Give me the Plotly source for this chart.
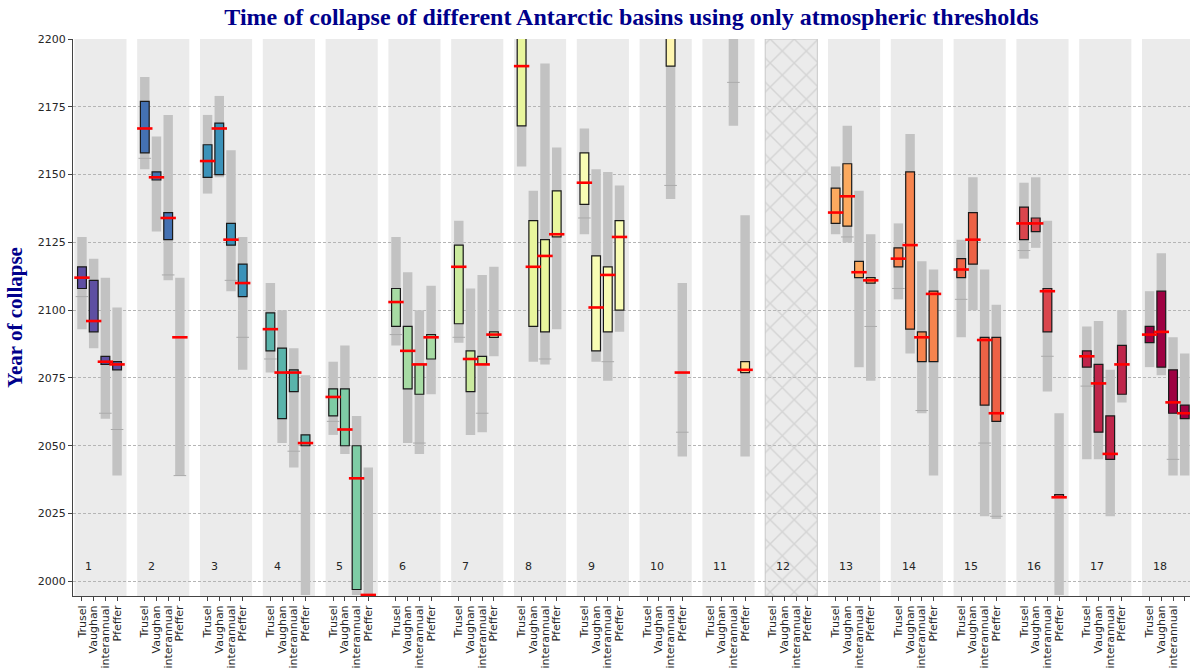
import plotly.graph_objects as go
from plotly.colors import sample_colorscale

# Threshold methods shown for every basin, left to right
METHODS = ["Trusel", "Vaughan", "interannual", "Pfeffer"]
BASINS = list(range(1, 19))
HATCHED_BASINS = [12]  # basin without any result

# Per basin: (Trusel, Vaughan, interannual, Pfeffer) collapse years
RANGE_LOW = [
    (2093, 2086, 2060, 2039), (2152, 2129, 2111, 2039), (2143, 2149, 2107, 2078),
    (2077, 2051, 2042, 1995), (2054, 2047, 1995, 1990), (2087, 2051, 2047, 2069),
    (2088, 2054, 2055, 2083), (2153, 2081, 2080, 2093), (2128, 2081, 2074, 2092),
    (None, None, 2141, 2046), (None, None, 2168, 2046), (None, None, None, None),
    (2128, 2125, 2079, 2074), (2104, 2084, 2062, 2039), (2090, 2100, 2024, 2023),
    (2119, 2123, 2070, 1995), (2045, 2045, 2024, 2066), (2079, 2076, 2039, 2039),
]
RANGE_HIGH = [
    (2127, 2119, 2112, 2101), (2186, 2164, 2172, 2112), (2172, 2179, 2159, 2127),
    (2110, 2100, 2086, 2076), (2081, 2087, 2061, 2042), (2127, 2114, 2100, 2109),
    (2133, 2108, 2113, 2116), (2230, 2144, 2191, 2160), (2167, 2152, 2151, 2146),
    (None, None, 2230, 2110), (None, None, 2230, 2135), (None, None, None, None),
    (2153, 2168, 2144, 2128), (2132, 2165, 2118, 2115), (2126, 2149, 2115, 2102),
    (2147, 2149, 2133, 2062), (2094, 2096, 2078, 2100), (2107, 2121, 2090, 2084),
]
RANGE_MARK = [
    (2105, None, 2062, 2056), (2156, None, 2113, 2039), (None, None, 2111, 2090),
    (2082, None, 2048, None), (2059, None, None, None), (2091, None, 2051, None),
    (2090, None, 2062, None), (None, None, 2082, None), (2134, None, 2081, None),
    (None, None, 2146, 2055), (None, None, 2184, None), (None, None, None, None),
    (None, 2127, None, 2094), (2108, None, 2063, None), (2104, None, 2051, 2024),
    (2122, None, 2083, None), (2072, None, None, None), (None, None, 2045, None),
]
BOX_LOW = [
    (2108, 2092, 2080, 2078), (2158, 2148, 2126, None), (2149, 2150, 2124, 2105),
    (2085, 2060, 2070, 2050), (2061, 2050, 1997, None), (2094, 2071, 2069, 2082),
    (2095, 2070, 2080, 2090), (2168, 2094, 2092, 2127), (2139, 2085, 2092, 2100),
    (None, None, 2190, None), (None, None, None, 2077), (None, None, None, None),
    (2132, 2131, 2112, 2110), (2116, 2093, 2081, 2081), (2112, 2117, 2065, 2059),
    (2126, 2129, 2092, 2031), (2079, 2055, 2045, 2069), (2088, 2079, 2062, 2060),
]
BOX_HIGH = [
    (2116, 2111, 2083, 2081), (2177, 2151, 2136, None), (2161, 2169, 2132, 2117),
    (2099, 2086, 2078, 2054), (2071, 2071, 2050, None), (2108, 2094, 2080, 2091),
    (2124, 2085, 2083, 2092), (2215, 2133, 2126, 2144), (2158, 2120, 2116, 2133),
    (None, None, 2215, None), (None, None, None, 2081), (None, None, None, None),
    (2145, 2154, 2118, 2112), (2123, 2151, 2092, 2107), (2119, 2136, 2090, 2090),
    (2138, 2134, 2108, 2032), (2085, 2080, 2061, 2087), (2094, 2107, 2078, 2065),
]
MEDIAN = [
    (2112, 2096, 2081, 2080), (2167, 2149, 2134, 2090), (2155, 2167, 2126, 2110),
    (2093, 2077, 2077, 2051), (2068, 2056, 2038, 1995), (2103, 2085, 2080, 2090),
    (2116, 2082, 2080, 2091), (2190, 2116, 2120, 2128), (2147, 2101, 2113, 2127),
    (None, None, 2205, 2077), (None, None, None, 2078), (None, None, None, None),
    (2136, 2142, 2114, 2111), (2119, 2124, 2090, 2106), (2115, 2126, 2089, 2062),
    (2132, 2132, 2107, 2031), (2083, 2073, 2047, 2080), (2091, 2092, 2066, 2062),
]
Y_TICKS = list(range(2000, 2201, 25))

# Layout geometry (x data units: one unit per basin)
STEP = 0.1863          # spacing between methods within a basin
BAND_LEFT, BAND_RIGHT = -0.121, 0.709
BAR_W = 0.14
Y_MIN, Y_MAX = 1994.6, 2200
X_MIN, X_MAX = 0.857, 18.643

basin_colors = sample_colorscale("Spectral_r", [i / 17 for i in range(18)])


def xpos(b, j):
    return b + j * STEP


fig = go.Figure()

# background band per basin
shapes = []
for b in BASINS:
    shapes.append(dict(type="rect", xref="x", yref="paper", x0=b + BAND_LEFT, x1=b + BAND_RIGHT,
                       y0=0, y1=1, fillcolor="#ebebeb", line=dict(width=0), layer="below"))

# hatched band for basins without results
for b in HATCHED_BASINS:
    fig.add_trace(go.Bar(
        x=[b + (BAND_LEFT + BAND_RIGHT) / 2], base=[Y_MIN], y=[Y_MAX - Y_MIN],
        width=[BAND_RIGHT - BAND_LEFT],
        marker=dict(color="rgba(0,0,0,0)",
                    line=dict(color="#c8c8c8", width=1),
                    pattern=dict(shape="x", fgcolor="#bdbdbd", bgcolor="rgba(0,0,0,0)",
                                 size=17, solidity=0.16)),
        hoverinfo="skip", showlegend=False))

# grey full ranges
gx, gbase, gh = [], [], []
for bi, b in enumerate(BASINS):
    for j in range(4):
        lo, hi = RANGE_LOW[bi][j], RANGE_HIGH[bi][j]
        if lo is not None and hi is not None:
            gx.append(xpos(b, j)); gbase.append(lo); gh.append(hi - lo)
fig.add_trace(go.Bar(x=gx, base=gbase, y=gh, width=BAR_W + 0.01,
                     marker=dict(color="#c2c2c2", line=dict(width=0)),
                     hoverinfo="skip", showlegend=False))

# darker marks inside grey ranges
mx, my = [], []
for bi, b in enumerate(BASINS):
    for j in range(4):
        v = RANGE_MARK[bi][j]
        if v is not None:
            mx.append(xpos(b, j)); my.append(v)
fig.add_trace(go.Scatter(x=mx, y=my, mode="markers",
                         marker=dict(symbol="line-ew", size=9, line=dict(color="#ababab", width=1)),
                         hoverinfo="skip", showlegend=False))

# coloured inner ranges
cx, cbase, ch, ccol = [], [], [], []
for bi, b in enumerate(BASINS):
    for j in range(4):
        lo, hi = BOX_LOW[bi][j], BOX_HIGH[bi][j]
        if lo is not None and hi is not None:
            cx.append(xpos(b, j)); cbase.append(lo); ch.append(hi - lo)
            ccol.append(basin_colors[bi])
fig.add_trace(go.Bar(x=cx, base=cbase, y=ch, width=BAR_W,
                     marker=dict(color=ccol, line=dict(color="#1a1a1a", width=1.2)),
                     hoverinfo="skip", showlegend=False))

# medians
rx, ry = [], []
for bi, b in enumerate(BASINS):
    for j in range(4):
        v = MEDIAN[bi][j]
        if v is not None:
            rx.append(xpos(b, j)); ry.append(v)
fig.add_trace(go.Scatter(x=rx, y=ry, mode="markers",
                         marker=dict(symbol="line-ew", size=11, line=dict(color="#ff0000", width=2.6)),
                         hoverinfo="skip", showlegend=False))

# basin numbers
annotations = []
for b in BASINS:
    annotations.append(dict(x=b + 0.02, y=2005.5, xref="x", yref="y", text=str(b),
                            showarrow=False, xanchor="left", yanchor="middle",
                            font=dict(family="DejaVu Sans", size=11, color="#262626")))

tickvals = [xpos(b, j) for b in BASINS for j in range(4)]
ticktext = [METHODS[j] for b in BASINS for j in range(4)]

fig.update_layout(
    width=1191, height=671,
    margin=dict(l=73, r=1, t=39, b=75),
    paper_bgcolor="white", plot_bgcolor="white",
    barmode="overlay",
    shapes=shapes,
    annotations=annotations,
    title=dict(text="Time of collapse of different Antarctic basins using only atmospheric thresholds",
               x=(73 + 1190) / 2 / 1191, xanchor="center", y=0.976, yanchor="middle",
               font=dict(family="Liberation Serif", size=24, color="#00008b", weight="bold")),
    xaxis=dict(range=[X_MIN, X_MAX], tickvals=tickvals, ticktext=ticktext, tickangle=-90,
               showgrid=False, zeroline=False, showline=True, linecolor="#444444", linewidth=1,
               ticks="outside", ticklen=4, tickcolor="#444444",
               tickfont=dict(family="DejaVu Sans", size=11, color="#262626")),
    yaxis=dict(range=[Y_MIN, Y_MAX], tickvals=Y_TICKS, showgrid=True, gridcolor="#b5b5b5",
               griddash="3px,2px", gridwidth=1, zeroline=False, showline=True,
               linecolor="#444444", linewidth=1, ticks="outside", ticklen=4, tickcolor="#444444",
               tickfont=dict(family="DejaVu Sans", size=11, color="#262626"),
               title=dict(text="Year of collapse", standoff=9,
                          font=dict(family="Liberation Serif", size=21, color="#00008b",
                                    weight="bold"))),
    showlegend=False,
)

fig.write_html("out.html")
